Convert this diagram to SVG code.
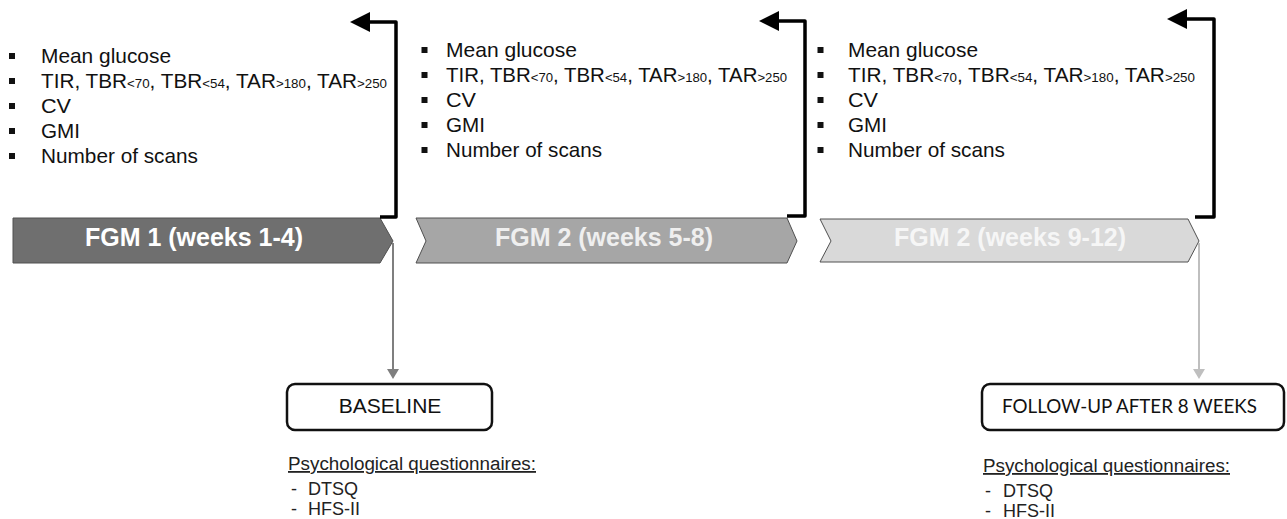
<svg xmlns="http://www.w3.org/2000/svg" width="1287" height="519" viewBox="0 0 1287 519">
<style>
.bt{font-family:"Liberation Sans",Arial,sans-serif;font-size:21px;fill:#111;}
.sub{font-size:13.5px;}
.bul{fill:#111;}
.chev{stroke:#505050;stroke-width:1;}
.ct{font-family:"Liberation Sans",Arial,sans-serif;font-size:25px;font-weight:bold;text-anchor:middle;}
.brk{fill:none;stroke:#000;stroke-width:3.5;stroke-linejoin:round;}
.box{fill:#fff;stroke:#111;stroke-width:2.5;}
.q{font-family:"Liberation Sans",Arial,sans-serif;font-size:18px;fill:#222;}
</style>
<rect width="1287" height="519" fill="#fff"/>

<g id="list1">
<rect class="bul" x="9" y="53" width="6" height="6"/>
<rect class="bul" x="9" y="78" width="6" height="6"/>
<rect class="bul" x="9" y="103" width="6" height="6"/>
<rect class="bul" x="9" y="128" width="6" height="6"/>
<rect class="bul" x="9" y="153" width="6" height="6"/>
<text class="bt" x="41" y="63" textLength="130" lengthAdjust="spacingAndGlyphs">Mean glucose</text>
<text class="bt" x="41" y="88" textLength="346" lengthAdjust="spacingAndGlyphs">TIR, TBR<tspan class="sub">&lt;70</tspan>, TBR<tspan class="sub">&lt;54</tspan>, TAR<tspan class="sub">&gt;180</tspan>, TAR<tspan class="sub">&gt;250</tspan></text>
<text class="bt" x="41" y="113" textLength="30" lengthAdjust="spacingAndGlyphs">CV</text>
<text class="bt" x="41" y="138" textLength="39" lengthAdjust="spacingAndGlyphs">GMI</text>
<text class="bt" x="41" y="163" textLength="157" lengthAdjust="spacingAndGlyphs">Number of scans</text>
</g>

<g id="list2">
<rect class="bul" x="421.5" y="47" width="6" height="6"/>
<rect class="bul" x="421.5" y="72" width="6" height="6"/>
<rect class="bul" x="421.5" y="97" width="6" height="6"/>
<rect class="bul" x="421.5" y="122" width="6" height="6"/>
<rect class="bul" x="421.5" y="147" width="6" height="6"/>
<text class="bt" x="446" y="57" textLength="131" lengthAdjust="spacingAndGlyphs">Mean glucose</text>
<text class="bt" x="446" y="82" textLength="341" lengthAdjust="spacingAndGlyphs">TIR, TBR<tspan class="sub">&lt;70</tspan>, TBR<tspan class="sub">&lt;54</tspan>, TAR<tspan class="sub">&gt;180</tspan>, TAR<tspan class="sub">&gt;250</tspan></text>
<text class="bt" x="446" y="107" textLength="30" lengthAdjust="spacingAndGlyphs">CV</text>
<text class="bt" x="446" y="132" textLength="39" lengthAdjust="spacingAndGlyphs">GMI</text>
<text class="bt" x="446" y="157" textLength="156" lengthAdjust="spacingAndGlyphs">Number of scans</text>
</g>

<g id="list3">
<rect class="bul" x="817.5" y="47" width="6" height="6"/>
<rect class="bul" x="817.5" y="72" width="6" height="6"/>
<rect class="bul" x="817.5" y="97" width="6" height="6"/>
<rect class="bul" x="817.5" y="122" width="6" height="6"/>
<rect class="bul" x="817.5" y="147" width="6" height="6"/>
<text class="bt" x="848" y="57" textLength="130" lengthAdjust="spacingAndGlyphs">Mean glucose</text>
<text class="bt" x="848" y="82" textLength="347" lengthAdjust="spacingAndGlyphs">TIR, TBR<tspan class="sub">&lt;70</tspan>, TBR<tspan class="sub">&lt;54</tspan>, TAR<tspan class="sub">&gt;180</tspan>, TAR<tspan class="sub">&gt;250</tspan></text>
<text class="bt" x="848" y="107" textLength="30" lengthAdjust="spacingAndGlyphs">CV</text>
<text class="bt" x="848" y="132" textLength="39" lengthAdjust="spacingAndGlyphs">GMI</text>
<text class="bt" x="848" y="157" textLength="157" lengthAdjust="spacingAndGlyphs">Number of scans</text>
</g>

<g id="fgm1">
<polygon class="chev" points="13,218 380,218 393,241 380,263 13,263" fill="#6f6f6f"/>
<text class="ct" x="194" y="246" fill="#ffffff">FGM 1 (weeks 1-4)</text>
</g>
<g id="fgm2">
<polygon class="chev" points="416,218 787,218 797,241 787,263 416,263 426,241" fill="#a6a6a6"/>
<text class="ct" x="604" y="246" fill="#efefef">FGM 2 (weeks 5-8)</text>
</g>
<g id="fgm3">
<polygon class="chev" points="820,219 1188,219 1199,241 1188,262 820,262 831,241" fill="#d9d9d9"/>
<text class="ct" x="1010" y="246" fill="#f6f6f6">FGM 2 (weeks 9-12)</text>
</g>

<g id="baseline">
<rect class="box" x="287" y="384" width="205" height="46" rx="8"/>
<text x="390" y="413" text-anchor="middle" font-family="Liberation Sans, Arial, sans-serif" font-size="21" fill="#111">BASELINE</text>
<text class="q" x="288" y="470" text-decoration="underline" textLength="248" lengthAdjust="spacingAndGlyphs">Psychological  questionnaires:</text>
<text class="q" x="291" y="495">-</text>
<text class="q" x="308" y="495">DTSQ</text>
<text class="q" x="291" y="515">-</text>
<text class="q" x="308" y="515">HFS-II</text>
</g>

<g id="followup">
<rect class="box" x="982" y="384" width="302" height="46" rx="8"/>
<text x="1002" y="413" font-family="Lato, Liberation Sans, sans-serif" font-size="19" fill="#111" textLength="255" lengthAdjust="spacingAndGlyphs">FOLLOW-UP AFTER 8 WEEKS</text>
<text class="q" x="983" y="472" text-decoration="underline" textLength="247" lengthAdjust="spacingAndGlyphs">Psychological  questionnaires:</text>
<text class="q" x="985" y="497">-</text>
<text class="q" x="1003" y="497">DTSQ</text>
<text class="q" x="985" y="517">-</text>
<text class="q" x="1003" y="517">HFS-II</text>
</g>

<g id="connectors">
<path class="brk" d="M380,217 L396,217 L396,22 L368,22"/>
<polygon points="350,22 370,12 370,32" fill="#000"/>
<path class="brk" d="M787,216 L805,216 L805,21 L777,21"/>
<polygon points="759,21 779,11 779,31" fill="#000"/>
<path class="brk" d="M1195,217 L1214,217 L1214,19 L1185,19"/>
<polygon points="1167,19 1187,9 1187,29" fill="#000"/>
<line x1="393" y1="243" x2="393" y2="370" stroke="#7f7f7f" stroke-width="2"/>
<polygon points="387,369 399,369 393,379" fill="#7f7f7f"/>
<line x1="1199" y1="243" x2="1199" y2="370" stroke="#bfbfbf" stroke-width="2"/>
<polygon points="1193,369 1205,369 1199,379" fill="#bfbfbf"/>
</g>
</svg>
